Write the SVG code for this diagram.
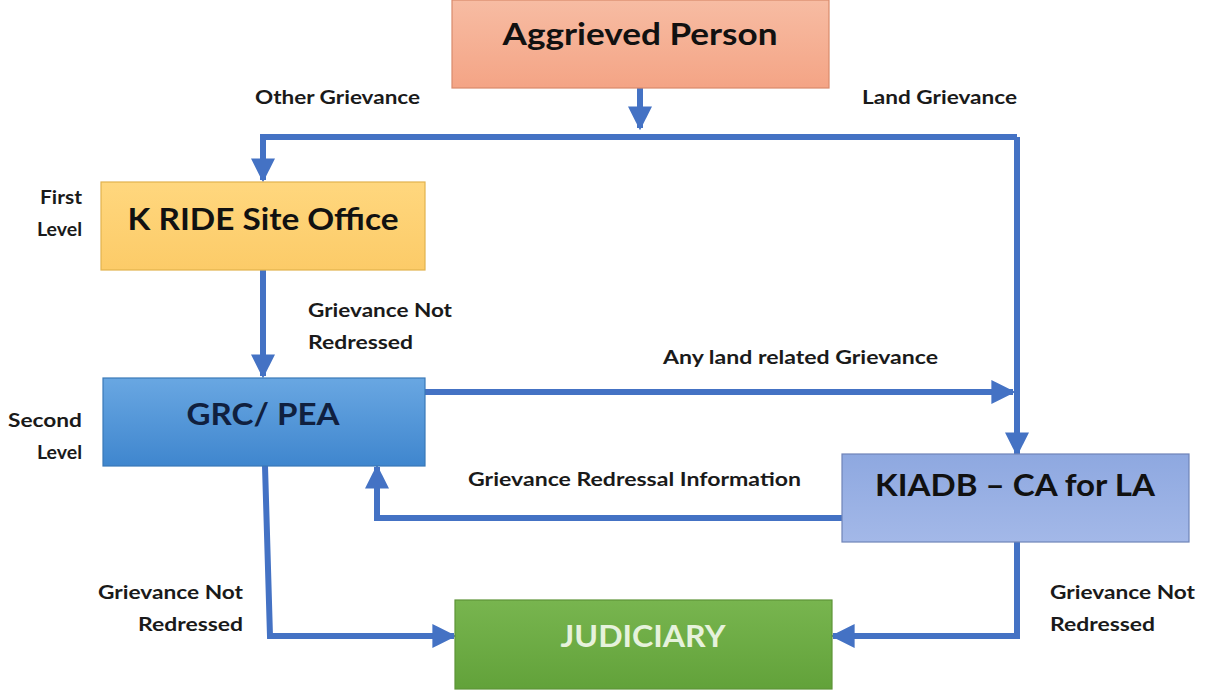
<svg xmlns="http://www.w3.org/2000/svg" width="1217" height="695" viewBox="0 0 1217 695">
<defs>
<linearGradient id="gOrange" x1="0" y1="0" x2="0" y2="1"><stop offset="0" stop-color="#F7BCA3"/><stop offset="1" stop-color="#F4A485"/></linearGradient>
<linearGradient id="gYellow" x1="0" y1="0" x2="0" y2="1"><stop offset="0" stop-color="#FFD77E"/><stop offset="1" stop-color="#FCCB68"/></linearGradient>
<linearGradient id="gBlue" x1="0" y1="0" x2="0" y2="1"><stop offset="0" stop-color="#69A7E2"/><stop offset="1" stop-color="#3F86CE"/></linearGradient>
<linearGradient id="gPeri" x1="0" y1="0" x2="0" y2="1"><stop offset="0" stop-color="#8EA8E0"/><stop offset="1" stop-color="#A3B8E8"/></linearGradient>
<linearGradient id="gGreen" x1="0" y1="0" x2="0" y2="1"><stop offset="0" stop-color="#78B54F"/><stop offset="1" stop-color="#62A23A"/></linearGradient>
<marker id="ah" viewBox="0 0 10 10" refX="9" refY="5" markerWidth="4" markerHeight="4" orient="auto" markerUnits="strokeWidth">
<path d="M0,0 L10,5 L0,10 z" fill="#4472C4"/>
</marker>
</defs>
<style>
.box{stroke-width:1.2}
.title{font-family:Lato,"Liberation Sans",sans-serif;font-weight:bold;font-size:31px;text-anchor:middle}
.lbl{font-family:Lato,"Liberation Sans",sans-serif;font-weight:bold;font-size:18px;fill:#1a1a1a}
.conn{fill:none;stroke:#4472C4;stroke-width:6}
</style>
<rect width="1217" height="695" fill="#ffffff"/>

<g id="connectors">
<path class="conn" d="M640,88 V128" marker-end="url(#ah)"/>
<path class="conn" d="M1017,137 H263 V180" marker-end="url(#ah)"/>
<path class="conn" d="M1017,137 V454" marker-end="url(#ah)"/>
<path class="conn" d="M263,270 V376" marker-end="url(#ah)"/>
<path class="conn" d="M425,392 H1013"  marker-end="url(#ah)"/>
<path class="conn" d="M842,518 H377 V467" marker-end="url(#ah)"/>
<path class="conn" d="M265,466 L270,636 H454" marker-end="url(#ah)"/>
<path class="conn" d="M1017,542 V636 H833" marker-end="url(#ah)"/>
</g>

<g id="aggrieved">
<rect class="box" x="452" y="0" width="377" height="88" fill="url(#gOrange)" stroke="#D98A6C"/>
<text class="title" x="640" y="45" fill="#111" textLength="275" lengthAdjust="spacingAndGlyphs">Aggrieved Person</text>
</g>

<g id="kride">
<rect class="box" x="101" y="182" width="324" height="88" fill="url(#gYellow)" stroke="#E2B24E"/>
<text class="title" x="263" y="230" fill="#111" textLength="271" lengthAdjust="spacingAndGlyphs">K RIDE Site Office</text>
</g>

<g id="grc">
<rect class="box" x="103" y="378" width="322" height="88" fill="url(#gBlue)" stroke="#3A79B8"/>
<text class="title" x="263" y="425" fill="#10203F" textLength="153" lengthAdjust="spacingAndGlyphs">GRC/ PEA</text>
</g>

<g id="kiadb">
<rect class="box" x="842" y="454" width="347" height="88" fill="url(#gPeri)" stroke="#6F84B8"/>
<text class="title" x="1015" y="496" fill="#111" textLength="280" lengthAdjust="spacingAndGlyphs">KIADB – CA for LA</text>
</g>

<g id="judiciary">
<rect class="box" x="455" y="600" width="377" height="89" fill="url(#gGreen)" stroke="#5E9438"/>
<text class="title" x="643" y="647" fill="#E6F2DC" textLength="165" lengthAdjust="spacingAndGlyphs">JUDICIARY</text>
</g>

<g id="labels">
<text class="lbl" x="255" y="104" textLength="165" lengthAdjust="spacingAndGlyphs">Other Grievance</text>
<text class="lbl" x="862" y="104" textLength="155" lengthAdjust="spacingAndGlyphs">Land Grievance</text>
<text class="lbl" x="40" y="204" textLength="42" lengthAdjust="spacingAndGlyphs">First</text>
<text class="lbl" x="37" y="236" textLength="45" lengthAdjust="spacingAndGlyphs">Level</text>
<text class="lbl" x="308" y="317" textLength="144" lengthAdjust="spacingAndGlyphs">Grievance Not</text>
<text class="lbl" x="308" y="349" textLength="105" lengthAdjust="spacingAndGlyphs">Redressed</text>
<text class="lbl" x="663" y="364" textLength="275" lengthAdjust="spacingAndGlyphs">Any land related Grievance</text>
<text class="lbl" x="8" y="427" textLength="74" lengthAdjust="spacingAndGlyphs">Second</text>
<text class="lbl" x="37" y="459" textLength="45" lengthAdjust="spacingAndGlyphs">Level</text>
<text class="lbl" x="468" y="486" textLength="333" lengthAdjust="spacingAndGlyphs">Grievance Redressal Information</text>
<text class="lbl" x="98" y="599" textLength="145" lengthAdjust="spacingAndGlyphs">Grievance Not</text>
<text class="lbl" x="138" y="631" textLength="105" lengthAdjust="spacingAndGlyphs">Redressed</text>
<text class="lbl" x="1050" y="599" textLength="145" lengthAdjust="spacingAndGlyphs">Grievance Not</text>
<text class="lbl" x="1050" y="631" textLength="105" lengthAdjust="spacingAndGlyphs">Redressed</text>
</g>
</svg>
